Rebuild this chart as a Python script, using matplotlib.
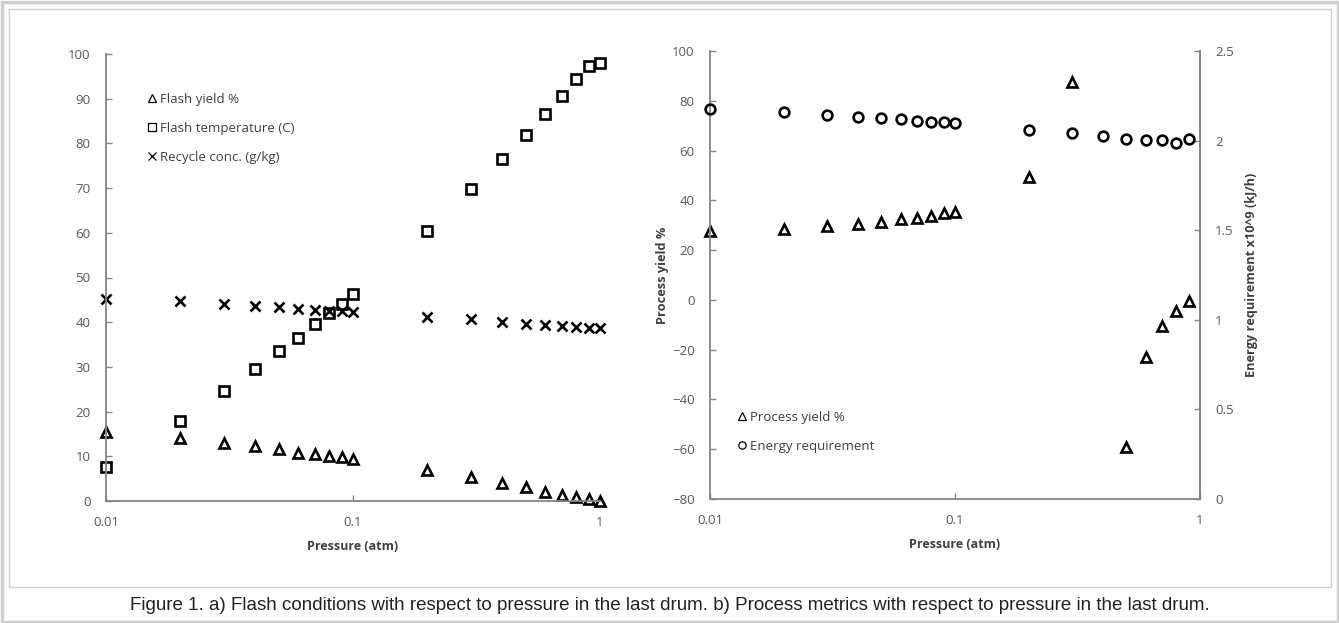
import matplotlib
matplotlib.use("Agg")
import matplotlib.pyplot as plt
from matplotlib.patches import Rectangle
from matplotlib.ticker import FixedLocator, NullLocator, FixedFormatter

# ---------------- data ----------------
pressure = [0.01, 0.02, 0.03, 0.04, 0.05, 0.06, 0.07, 0.08, 0.09, 0.1,
            0.2, 0.3, 0.4, 0.5, 0.6, 0.7, 0.8, 0.9, 1.0]
flash_yield = [15.5, 14.0, 13.0, 12.2, 11.6, 10.8, 10.5, 10.0, 9.8, 9.3,
               7.0, 5.3, 4.1, 3.2, 2.1, 1.3, 0.9, 0.4, 0.1]
flash_temp = [7.5, 18.0, 24.5, 29.5, 33.5, 36.5, 39.5, 42.0, 44.0, 46.3,
              60.5, 69.8, 76.6, 81.8, 86.5, 90.6, 94.3, 97.4, 98.0]
recycle_conc = [45.3, 44.7, 44.1, 43.6, 43.3, 43.0, 42.7, 42.4, 42.5, 42.2,
                41.2, 40.7, 40.1, 39.6, 39.4, 39.1, 38.9, 38.6, 38.6]

yield_pressure = [0.01, 0.02, 0.03, 0.04, 0.05, 0.06, 0.07, 0.08, 0.09, 0.1,
                  0.2, 0.3, 0.5, 0.6, 0.7, 0.8, 0.9]
process_yield = [27.5, 28.5, 29.5, 30.5, 31.3, 32.3, 32.8, 33.8, 34.8, 35.5,
                 49.5, 87.5, -59.0, -23.0, -10.5, -4.3, -0.3]

energy_pressure = [0.01, 0.02, 0.03, 0.04, 0.05, 0.06, 0.07, 0.08, 0.09, 0.1,
                   0.2, 0.3, 0.4, 0.5, 0.6, 0.7, 0.8, 0.9]
energy_req = [2.174, 2.157, 2.143, 2.13, 2.125, 2.118, 2.11, 2.104, 2.104, 2.097,
              2.06, 2.04, 2.025, 2.01, 2.004, 2.004, 1.986, 2.007]

x_ticks = [0.01, 0.1, 1]
x_ticklabels = ["0.01", "0.1", "1"]
left_yticks = list(range(0, 101, 10))
right_yticks = list(range(-80, 101, 20))
energy_ticks = [0, 0.5, 1, 1.5, 2, 2.5]
energy_ticklabels = ["0", "0.5", "1", "1.5", "2", "2.5"]

caption = ("Figure 1. a) Flash conditions with respect to pressure in the last drum. "
           "b) Process metrics with respect to pressure in the last drum.")

# ---------------- style ----------------
FONT = ["Open Sans", "DejaVu Sans"]
TICK_COLOR = "#595959"
SPINE_COLOR = "#868686"
TXT = "#404040"
W, H = 1339, 623

fig = plt.figure(figsize=(W / 100, H / 100), dpi=100)

# frames
fig.add_artist(Rectangle((1.5 / W, 1.5 / H), (W - 3) / W, (H - 3) / H,
                         transform=fig.transFigure, fill=False,
                         edgecolor="#cfcfcf", linewidth=2.5))
fig.add_artist(Rectangle((9 / W, 1 - 587 / H), (1331 - 9) / W, (587 - 9) / H,
                         transform=fig.transFigure, fill=False,
                         edgecolor="#cfcfcf", linewidth=1.0))


def style_axes(ax, right=False):
    ax.set_xscale("log")
    ax.set_xlim(0.01, 1)
    ax.xaxis.set_major_locator(FixedLocator(x_ticks))
    ax.xaxis.set_major_formatter(FixedFormatter(x_ticklabels))
    ax.xaxis.set_minor_locator(NullLocator())
    ax.spines["top"].set_visible(False)
    if not right:
        ax.spines["right"].set_visible(False)
    for s in ax.spines.values():
        s.set_color(SPINE_COLOR)
        s.set_linewidth(1.3)
    ax.tick_params(axis="both", which="major", direction="in", length=4,
                   width=1.0, color=SPINE_COLOR, labelcolor=TICK_COLOR,
                   labelsize=9.5, pad=11)
    for lbl in ax.get_xticklabels() + ax.get_yticklabels():
        lbl.set_family(FONT)
    ax.set_xlabel("Pressure (atm)", fontsize=9, fontweight="bold",
                  color=TXT, family=FONT, labelpad=8)


mk = dict(linestyle="none", markerfacecolor="none", markeredgecolor="black",
          clip_on=False)

LEG_KW = dict(frameon=False, handlelength=0.5, handletextpad=0.3,
              labelspacing=1.2, markerscale=0.75,
              prop={"family": FONT, "size": 9.5},
              borderpad=0, borderaxespad=0)

# ---------------- left chart ----------------
ax1 = fig.add_axes([106 / W, 1 - 501 / H, 494 / W, 447 / H])
ax1.plot(pressure, flash_yield, marker="^", markersize=7.5, markeredgewidth=1.9,
         label="Flash yield %", **mk)
ax1.plot(pressure, flash_temp, marker="s", markersize=7.2, markeredgewidth=1.9,
         label="Flash temperature (C)", **mk)
ax1.plot(pressure, recycle_conc, marker="x", markersize=7, markeredgewidth=1.9,
         label="Recycle conc. (g/kg)", **mk)
ax1.set_ylim(0, 100)
ax1.set_yticks(left_yticks)
style_axes(ax1)
leg1 = ax1.legend(loc="upper left", bbox_to_anchor=(149 / W, 1 - 93 / H),
                  bbox_transform=fig.transFigure, **LEG_KW)
for t in leg1.get_texts():
    t.set_color(TXT)
for h in leg1.legend_handles:
    h.set_markeredgewidth(0.9)

# ---------------- right chart ----------------
ax2 = fig.add_axes([710 / W, 1 - 499 / H, 490 / W, 448 / H])
ax3 = ax2.twinx()
ax2.plot(yield_pressure, process_yield, marker="^", markersize=7.5,
         markeredgewidth=1.9, label="Process yield %", **mk)
ax3.plot(energy_pressure, energy_req, marker="o", markersize=7,
         markeredgewidth=1.9, label="Energy requirement", **mk)
ax2.set_ylim(-80, 100)
ax2.set_yticks(right_yticks)
ax3.set_ylim(0, 2.5)
ax3.yaxis.set_major_locator(FixedLocator(energy_ticks))
ax3.yaxis.set_major_formatter(FixedFormatter(energy_ticklabels))
style_axes(ax2, right=True)
ax3.spines["top"].set_visible(False)
ax3.spines["left"].set_visible(False)
ax3.spines["bottom"].set_visible(False)
ax3.spines["right"].set_color(SPINE_COLOR)
ax3.spines["right"].set_linewidth(1.3)
ax3.tick_params(axis="y", direction="in", length=4, width=1.0,
                color=SPINE_COLOR, labelcolor=TICK_COLOR, labelsize=9.5, pad=11)
for lbl in ax3.get_yticklabels():
    lbl.set_family(FONT)
ax2.set_ylabel("Process yield %", fontsize=9.2, fontweight="bold", color=TXT,
               family=FONT, labelpad=2)
ax3.set_ylabel("Energy requirement x10^9 (kJ/h)", fontsize=9.2,
               fontweight="bold", color=TXT, family=FONT, labelpad=8)

h2, l2 = ax2.get_legend_handles_labels()
h3, l3 = ax3.get_legend_handles_labels()
leg2 = ax2.legend(h2 + h3, l2 + l3, loc="upper left",
                  bbox_to_anchor=(739 / W, 1 - 411 / H),
                  bbox_transform=fig.transFigure, **LEG_KW)
for t in leg2.get_texts():
    t.set_color(TXT)
for h in leg2.legend_handles:
    h.set_markeredgewidth(0.9)

fig.text(0.5, 1 - 606 / H, caption, ha="center", va="center",
         fontsize=13.5, family=["Liberation Sans", "DejaVu Sans"],
         color="#222222")

fig.savefig("out.png", dpi=100)
